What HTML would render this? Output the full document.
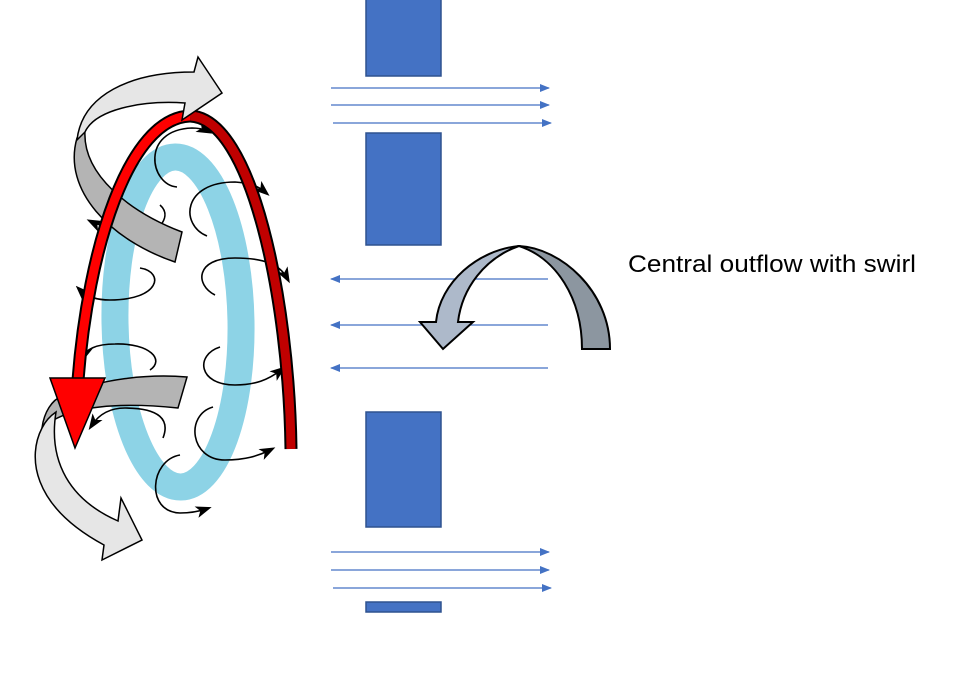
<!DOCTYPE html>
<html><head><meta charset="utf-8"><style>
html,body{margin:0;padding:0;background:#fff;width:979px;height:680px;overflow:hidden}
svg{display:block}
</style></head><body>
<svg width="979" height="680" viewBox="0 0 979 680" xmlns="http://www.w3.org/2000/svg">
<defs>
<marker id="bl" markerWidth="10" markerHeight="8" refX="9" refY="4" orient="auto" markerUnits="userSpaceOnUse"><path d="M0,0 L10,4 L0,8 Z" fill="#4472C4"/></marker>
<marker id="bk" markerWidth="16" markerHeight="12" refX="10" refY="6" orient="auto" markerUnits="userSpaceOnUse"><path d="M0,0 L16,6 L0,12 L4,6 Z" fill="#000"/></marker>
</defs>
<g fill="#4472C4" stroke="#2F528F" stroke-width="1.5">
<rect x="366" y="-2" width="75" height="78"/>
<rect x="366" y="133" width="75" height="112"/>
<rect x="366" y="412" width="75" height="115"/>
<rect x="366" y="602" width="75" height="10"/>
</g>
<g stroke="#4472C4" stroke-width="1.3" fill="none">
<line x1="331" y1="88" x2="549" y2="88" marker-end="url(#bl)"/>
<line x1="331" y1="105" x2="549" y2="105" marker-end="url(#bl)"/>
<line x1="333" y1="123" x2="551" y2="123" marker-end="url(#bl)"/>
<line x1="331" y1="552" x2="549" y2="552" marker-end="url(#bl)"/>
<line x1="331" y1="570" x2="549" y2="570" marker-end="url(#bl)"/>
<line x1="333" y1="588" x2="551" y2="588" marker-end="url(#bl)"/>
<line x1="548" y1="279" x2="331" y2="279" marker-end="url(#bl)"/>
<line x1="548" y1="325" x2="331" y2="325" marker-end="url(#bl)"/>
<line x1="548" y1="368" x2="331" y2="368" marker-end="url(#bl)"/>
</g>
<path d="M519,246 C560,248 610,290 610,349 L582,349 C582,298 556,258 519,246 Z" fill="#8C96A0" stroke="#000" stroke-width="2"/>
<path d="M519,246 C478,250 440,282 436,322 L420,322 L443,349 L473,322 L458,322 C462,288 485,258 519,246 Z" fill="#ADB9CA" stroke="#000" stroke-width="2"/>
<text x="628" y="272" font-family="Liberation Sans, sans-serif" font-size="24" textLength="288" lengthAdjust="spacingAndGlyphs" fill="#000">Central outflow with swirl</text>

<ellipse cx="178" cy="322" rx="63" ry="165" fill="none" stroke="#8DD3E6" stroke-width="27" transform="rotate(-1 178 322)"/>

<g stroke="#000" stroke-width="1.6" fill="none" marker-end="url(#bk)">
<path d="M177,187 C150,185 140,130 192,128 C198,128 203,129 207,131"/>
<path d="M207,236 C180,225 182,182 235,182 C250,183 258,186 265,192"/>
<path d="M140,268 C165,272 160,300 110,300 C95,300 86,296 80,290"/>
<path d="M215,295 C195,285 195,258 235,258 C265,258 280,265 287,278"/>
<path d="M150,370 C165,360 150,343 115,344 C95,344 86,350 84,356"/>
<path d="M220,347 C195,355 198,385 235,385 C255,385 268,380 281,370"/>
<path d="M163,438 C170,420 160,408 125,408 C108,408 98,416 92,425"/>
<path d="M213,407 C185,415 190,460 225,460 C245,460 258,456 270,450"/>
<path d="M180,455 C150,460 145,512 180,513 C190,513 197,512 206,509"/>
<path d="M160,205 C168,212 165,220 160,226" marker-end="none"/>
<path d="M105,225 C100,225 96,224 92,222"/>
</g>

<!-- dark gray top band -->
<path d="M85,130 C82,175 130,212 182,232 L175,262 C110,240 62,190 77,138 Z" fill="#B4B4B4" stroke="#000" stroke-width="1.5"/>
<!-- dark gray bottom band -->
<path d="M187,377 L178,408 C120,402 68,405 42,428 C44,412 52,400 62,396 C100,378 150,374 187,377 Z" fill="#B4B4B4" stroke="#000" stroke-width="1.5"/>

<path d="M291,449 C289,300 252,118 190,116" fill="none" stroke="#000" stroke-width="13"/>
<path d="M291,449 C289,300 252,118 190,116" fill="none" stroke="#C00000" stroke-width="9"/>
<path d="M190,116 C128,118 88,250 78,380" fill="none" stroke="#000" stroke-width="13"/>
<path d="M190,116 C128,118 88,250 78,380" fill="none" stroke="#FF0000" stroke-width="9"/>
<path d="M50,378 L105,378 L75,448 Z" fill="#FF0000" stroke="#000" stroke-width="1.5"/>

<!-- light gray top band -->
<path d="M77,140 C82,95 130,72 194,72 L198,57 L222,93 L182,120 L185,103 C140,100 95,110 85,132 Z" fill="#E6E6E6" stroke="#000" stroke-width="1.5"/>
<!-- light gray bottom band -->
<path d="M42,428 C28,455 30,505 104,545 L102,560 L142,540 L121,498 L118,521 C70,500 48,462 56,412 C50,416 45,422 42,428 Z" fill="#E6E6E6" stroke="#000" stroke-width="1.5"/>
</svg>
</body></html>
